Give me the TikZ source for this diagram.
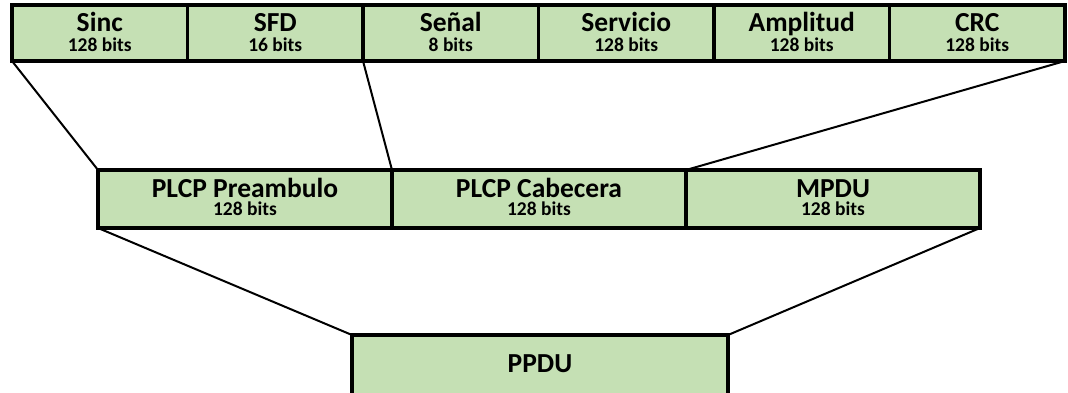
\documentclass[tikz,border=0pt]{standalone}
\usepackage{fontspec}
\setmainfont{Carlito}
\definecolor{fieldgreen}{HTML}{C5E0B4}
\tikzset{
  field/.style={draw=black, line width=3.5pt, fill=fieldgreen, inner sep=0pt, outer sep=0pt, anchor=north west},
  topfield/.style={field, minimum width=175.5pt, minimum height=56pt},
  midfield/.style={field, minimum width=294pt, minimum height=58pt},
  ttl/.style={font=\bfseries\fontsize{27.5}{27.5}\selectfont, anchor=base, inner sep=0pt},
  sub/.style={font=\bfseries\fontsize{19.5}{19.5}\selectfont, anchor=base, inner sep=0pt},
  link/.style={draw=black, line width=2pt},
}
\begin{document}
\begin{tikzpicture}[x=1pt,y=-1pt]
\useasboundingbox (0,0) rectangle (1068,393);

% connectors (drawn first so the box borders cover their ends)
\coordinate (sincSW) at (12,61);
\coordinate (sfdSE) at (363,61);
\coordinate (crcSE) at (1065,61);
\coordinate (preNW) at (98,170);
\coordinate (preNE) at (392,170);
\coordinate (cabNE) at (686,170);
\coordinate (preSW) at (98,228);
\coordinate (mpduSE) at (980,228);
\coordinate (ppduNW) at (352,335);
\coordinate (ppduNE) at (728,335);
\draw[link] (sincSW) -- (preNW);
\draw[link] (sfdSE) -- (preNE);
\draw[link] (crcSE) -- (cabNE);
\draw[link] (preSW) -- (ppduNW);
\draw[link] (mpduSE) -- (ppduNE);

% top row: PLCP header fields
\node[topfield] (sinc) at (12,5) {};
\node[topfield] (sfd) at (187.5,5) {};
\node[topfield] (senal) at (363,5) {};
\node[topfield] (serv) at (538.5,5) {};
\node[topfield] (ampl) at (714,5) {};
\node[topfield] (crc) at (889.5,5) {};

\node[ttl] (sincT) at (99.75,32) {Sinc};
\node[sub] (sincB) at (99.75,52) {128 bits};
\node[ttl] (sfdT) at (275.25,32) {SFD};
\node[sub] (sfdB) at (275.25,52) {16 bits};
\node[ttl] (senalT) at (450.75,32) {Señal};
\node[sub] (senalB) at (450.75,52) {8 bits};
\node[ttl] (servT) at (626.25,32) {Servicio};
\node[sub] (servB) at (626.25,52) {128 bits};
\node[ttl] (amplT) at (801.75,32) {Amplitud};
\node[sub] (amplB) at (801.75,52) {128 bits};
\node[ttl] (crcT) at (977.25,32) {CRC};
\node[sub] (crcB) at (977.25,52) {128 bits};

% middle row: PPDU structure
\node[midfield] (pre) at (98,170) {};
\node[midfield] (cab) at (392,170) {};
\node[midfield] (mpdu) at (686,170) {};

\node[ttl] (preT) at (245,197) {PLCP Preambulo};
\node[sub] (preB) at (245,215) {128 bits};
\node[ttl] (cabT) at (539,197) {PLCP Cabecera};
\node[sub] (cabB) at (539,215) {128 bits};
\node[ttl] (mpduT) at (833,197) {MPDU};
\node[sub] (mpduB) at (833,215) {128 bits};

% bottom: the whole PPDU
\node[field, minimum width=376pt, minimum height=70pt] (ppdu) at (352,335) {};
\node[ttl] (ppduT) at (540,372) {PPDU};
\end{tikzpicture}
\end{document}
